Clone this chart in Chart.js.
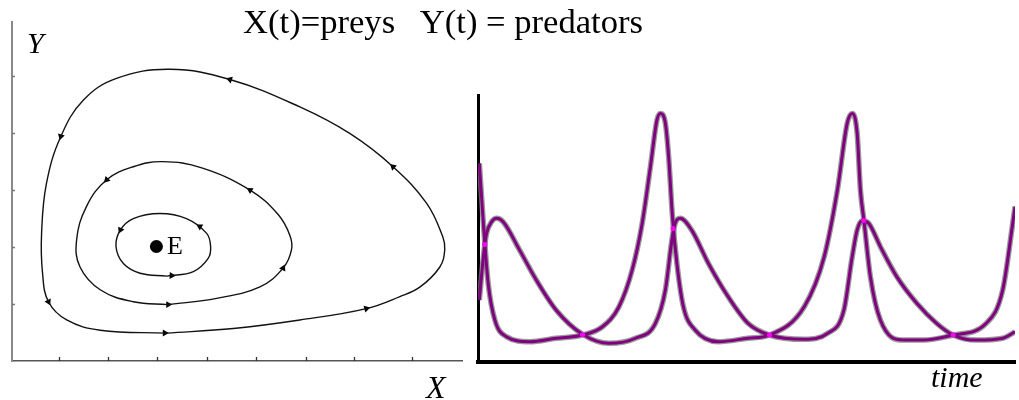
<!DOCTYPE html>
<html>
<head>
<meta charset="utf-8">
<title>Lotka-Volterra</title>
<script src="https://cdn.jsdelivr.net/npm/chart.js@4.4.1/dist/chart.umd.min.js"></script>
<style>
html,body{margin:0;padding:0;background:#fff;}
body{width:1019px;height:400px;position:relative;overflow:hidden;font-family:"Liberation Serif","Times New Roman",serif;}
canvas{position:absolute;}
#phase{left:0;top:0;}
#series{left:470px;top:80px;}
.lbl{position:absolute;line-height:1;white-space:nowrap;color:#000;}
.it{font-style:italic;}
#title{left:243px;top:6px;font-size:33px;transform-origin:0 0;}
</style>
</head>
<body>
<canvas id="phase" width="470" height="400"></canvas>
<canvas id="series" width="549" height="320"></canvas>
<div class="lbl" id="title">X(t)=preys&nbsp;&nbsp; Y(t) = predators</div>
<div class="lbl it" style="left:27px;top:28px;font-size:30px;">Y</div>
<div class="lbl it" style="left:426px;top:371px;font-size:32px;">X</div>
<div class="lbl" style="left:167px;top:233px;font-size:26px;">E</div>
<div class="lbl it" style="left:931px;top:362px;font-size:30px;">time</div>
<script>
(function(){
	// phase plane (X = preys, Y = predators), orbits run counter-clockwise
	const outerX = [3.14, 4.49, 5.84, 7.19, 7.87, 8.28, 8.68, 8.78, 8.74, 8.41, 7.73, 6.86, 5.84, 4.42, 3.20, 2.12, 1.45, 0.99, 0.70, 0.60, 0.62, 0.74, 1.11, 1.79, 3.14];
	const outerY = [0.49, 0.57, 0.72, 0.92, 1.13, 1.30, 1.65, 1.95, 2.18, 2.77, 3.41, 3.99, 4.46, 4.94, 5.12, 4.96, 4.58, 3.94, 3.12, 2.24, 1.54, 1.04, 0.72, 0.54, 0.49];
	const middleX = [3.17, 4.15, 5.03, 5.50, 5.67, 5.64, 5.40, 4.83, 3.85, 3.05, 2.46, 1.92, 1.51, 1.31, 1.38, 1.79, 2.46, 3.17];
	const middleY = [0.99, 1.10, 1.30, 1.63, 1.95, 2.20, 2.57, 3.00, 3.39, 3.50, 3.41, 3.18, 2.71, 2.12, 1.65, 1.25, 1.04, 0.99];
	const innerX = [3.14, 3.68, 3.98, 4.03, 3.95, 3.54, 3.00, 2.46, 2.20, 2.11, 2.26, 2.60, 3.14];
	const innerY = [1.49, 1.57, 1.80, 2.01, 2.24, 2.50, 2.59, 2.50, 2.30, 2.01, 1.71, 1.54, 1.49];
	const equilibrium = {x: 2.93, y: 2.01};

	// arrow heads on the orbits, angle in degrees (0 = up, 90 = right)
	const arrowX = [4.42, 0.99, 0.74, 3.10, 7.19, 7.73, 1.92, 4.83, 5.50, 3.17, 2.20, 3.81, 3.24];
	const arrowY = [4.94, 3.94, 1.04, 0.49, 0.92, 3.41, 3.18, 3.00, 1.63, 0.99, 2.30, 2.36, 1.50];
	const arrowAngle = [288, 197, 155, 90, 75, 312, 225, 301, 25, 90, 205, 300, 92];

	const phaseXTicks = [0.96, 1.94, 2.94, 3.96, 4.96, 5.96, 6.94, 8.12];
	const phaseYTicks = [1, 2, 3, 4, 5];

	// time series
	const preyT = [0.07, 0.28, 0.53, 0.88, 1.48, 2.69, 4.07, 5.45, 6.49, 7.35, 8.04, 8.56, 8.99, 9.33, 9.51, 9.77, 9.94, 10.14, 10.37, 10.71, 11.32, 12.53, 14.08, 15.20, 17.01, 18.05, 18.74, 19.25, 19.51, 19.77, 19.94, 20.12, 20.46, 20.98, 22.19, 23.22, 24.78, 26.50, 27.36, 27.88, 28.0];
	const preyY = [7.44, 5.19, 2.95, 1.57, 0.95, 0.76, 0.89, 1.01, 1.32, 2.07, 3.45, 5.19, 7.31, 9.06, 9.31, 8.94, 7.69, 5.44, 3.70, 2.07, 1.20, 0.76, 0.89, 1.01, 2.07, 3.94, 6.44, 8.94, 9.31, 8.56, 6.44, 5.32, 3.19, 1.57, 0.82, 0.82, 1.01, 1.45, 2.70, 5.19, 5.82];
	const predT = [0.07, 0.28, 0.45, 0.71, 0.97, 1.31, 2.17, 3.04, 4.07, 5.45, 6.83, 8.21, 9.25, 9.77, 10.11, 10.28, 10.54, 11.14, 12.01, 13.04, 14.08, 15.20, 17.01, 18.22, 19.08, 19.51, 19.77, 20.03, 20.38, 20.98, 21.84, 22.88, 23.91, 24.78, 25.98, 27.36, 28.0];
	const predY = [2.32, 3.94, 4.82, 5.25, 5.38, 5.25, 4.19, 3.07, 1.95, 1.04, 0.70, 0.89, 1.45, 2.70, 4.57, 5.19, 5.38, 4.94, 3.70, 2.45, 1.45, 1.01, 0.85, 1.07, 1.95, 3.94, 4.94, 5.29, 5.19, 4.32, 3.19, 2.20, 1.45, 1.01, 0.82, 0.89, 1.13];
	const crossT = [0.35, 5.45, 10.17, 15.20, 20.12, 24.78];
	const crossY = [4.4, 1.02, 5.0, 1.01, 5.3, 1.01];

	function pts(xs, ys){
		return xs.map((x, i) => ({x, y: ys[i]}));
	}

	const title = document.getElementById('title');
	title.style.transform = `scaleX(${400 / title.getBoundingClientRect().width})`;

	// small tick marks pointing into the plot
	const innerTicks = {
		id: 'innerTicks',
		afterDraw(chart){
			const {ctx, chartArea: a} = chart;
			const sx = chart.scales.x, sy = chart.scales.y;
			ctx.save();
			ctx.lineWidth = 1.3;
			ctx.strokeStyle = '#333';
			ctx.beginPath();
			for(const v of phaseXTicks){
				const px = Math.round(sx.getPixelForValue(v)) + 0.5;
				ctx.moveTo(px, a.bottom);
				ctx.lineTo(px, a.bottom - 4);
			}
			ctx.stroke();
			ctx.strokeStyle = '#777';
			ctx.beginPath();
			for(const v of phaseYTicks){
				const py = Math.round(sy.getPixelForValue(v)) + 0.5;
				ctx.moveTo(a.left, py);
				ctx.lineTo(a.left + 3, py);
			}
			ctx.stroke();
			ctx.restore();
		}
	};

	const orbit = (data) => ({
		data, showLine: true, borderColor: '#111', borderWidth: 1.4,
		pointRadius: 0, tension: 0.4, fill: false
	});

	const hiddenAxis = (min, max, color, width, horizontal) => ({
		type: 'linear', min, max,
		ticks: {display: false},
		grid: {display: false, drawTicks: false},
		border: {display: true, color, width},
		afterFit: s => { if(horizontal) s.height = 0; else s.width = 0; }
	});

	new Chart(document.getElementById('phase'), {
		type: 'scatter',
		data: {
			datasets: [
				orbit(pts(outerX, outerY)),
				orbit(pts(middleX, middleY)),
				orbit(pts(innerX, innerY)),
				{
					data: pts(arrowX, arrowY), pointStyle: 'triangle', pointRadius: 4,
					pointRotation: arrowAngle, backgroundColor: '#000', borderColor: '#000', borderWidth: 0
				},
				{data: [equilibrium], pointRadius: 6.5, backgroundColor: '#000', borderWidth: 0}
			]
		},
		options: {
			responsive: false,
			animation: false,
			events: [],
			layout: {padding: {left: 12, top: 22, right: 8, bottom: 39}},
			plugins: {legend: {display: false}, tooltip: {enabled: false}},
			scales: {
				x: hiddenAxis(0, 9.13, '#555', 1.5, true),
				y: hiddenAxis(0, 5.95, '#8a8a8a', 2, false)
			}
		},
		plugins: [innerTicks]
	});

	const curve = (data, color, width, order) => ({
		data, showLine: true, borderColor: color, borderWidth: width,
		pointRadius: 0, cubicInterpolationMode: 'monotone', fill: false, order
	});

	new Chart(document.getElementById('series'), {
		type: 'scatter',
		data: {
			datasets: [
				curve(pts(preyT, preyY), 'rgba(120,120,120,0.75)', 5.5, 3),
				curve(pts(predT, predY), 'rgba(120,120,120,0.75)', 5.5, 3),
				curve(pts(preyT, preyY), '#800080', 3, 1),
				curve(pts(predT, predY), '#800080', 3, 1),
				{data: pts(crossT, crossY), pointRadius: 2.5, backgroundColor: '#ff00ff', borderWidth: 0, order: 0}
			]
		},
		options: {
			responsive: false,
			animation: false,
			events: [],
			layout: {padding: {left: 8, top: 15, right: 0, bottom: 38}},
			plugins: {legend: {display: false}, tooltip: {enabled: false}},
			scales: {
				x: hiddenAxis(0, 28, '#000', 4, true),
				y: hiddenAxis(0, 10, '#000', 3, false)
			}
		}
	});
})();
</script>
</body>
</html>
